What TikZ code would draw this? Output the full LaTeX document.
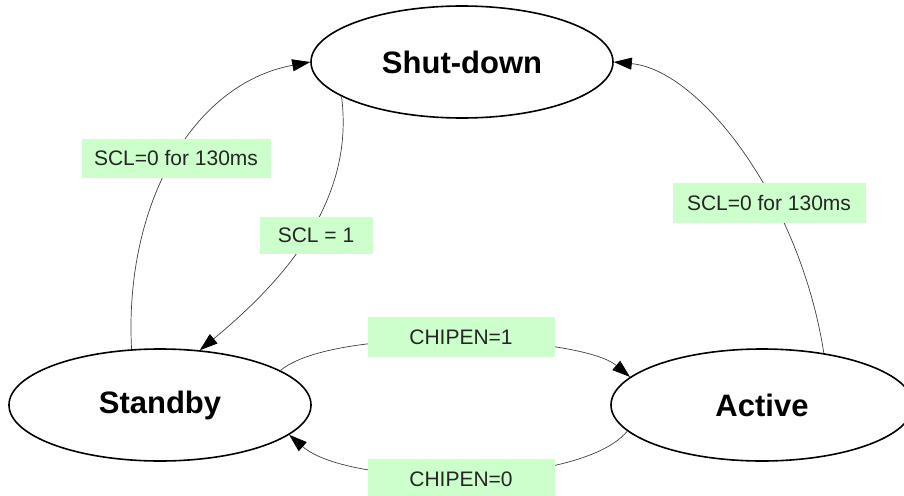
\documentclass[tikz,border=0pt]{standalone}
\usepackage{fontspec}
\setmainfont{Liberation Sans}
\usetikzlibrary{shapes.geometric,arrows.meta}
\definecolor{labelgreen}{HTML}{CCFFCC}
\tikzset{
  state/.style={ellipse, draw=black, line width=1.6pt, minimum width=302pt,
    minimum height=112pt, inner sep=0pt, font=\fontsize{31}{36}\selectfont\bfseries},
  edgelabel/.style={fill=labelgreen, inner sep=0pt, text=black!85,
    font=\fontsize{21}{25}\selectfont},
  trans/.style={draw=black!75, line width=0.7pt,
    -{Triangle[length=18pt,width=12pt,color=black]}}
}
\begin{document}
\begin{tikzpicture}[x=1pt,y=-1pt]
  \useasboundingbox (0,0) rectangle (904,495);
  \clip (0,0) rectangle (904,495);

  % states
  \node[state] (sd) at (462,62) {Shut-down};
  \node[state] (sb) at (160,405) {Standby};
  \node[state] (ac) at (762,405) {Active};

  % transitions
  \path[trans] (sb.117) .. controls (124,205) and (192,84) .. (sd.west);
  \path[trans] (sd.196) .. controls (355,200) and (285,280) .. (sb.54);
  \path[trans] (ac.40) .. controls (800,200) and (700,70) .. (sd.east);
  \path[trans] (sb.16) .. controls (335,325) and (580,335) .. (ac.168);
  \path[trans] (ac.191) .. controls (580,488) and (350,488) .. (sb.-13);

  % transition labels, over the lines
  \node[edgelabel, minimum width=189pt, minimum height=39pt] (l1) at (176,158) {SCL=0 for 130ms};
  \node[edgelabel, minimum width=113pt, minimum height=37pt] (l2) at (316,235) {SCL = 1};
  \node[edgelabel, minimum width=193pt, minimum height=40pt] (l3) at (769,203) {SCL=0 for 130ms};
  \node[edgelabel, minimum width=187pt, minimum height=40pt] (l4) at (461,337) {CHIPEN=1};
  \node[edgelabel, minimum width=187pt, minimum height=40pt] (l5) at (461,479) {CHIPEN=0};
\end{tikzpicture}
\end{document}
